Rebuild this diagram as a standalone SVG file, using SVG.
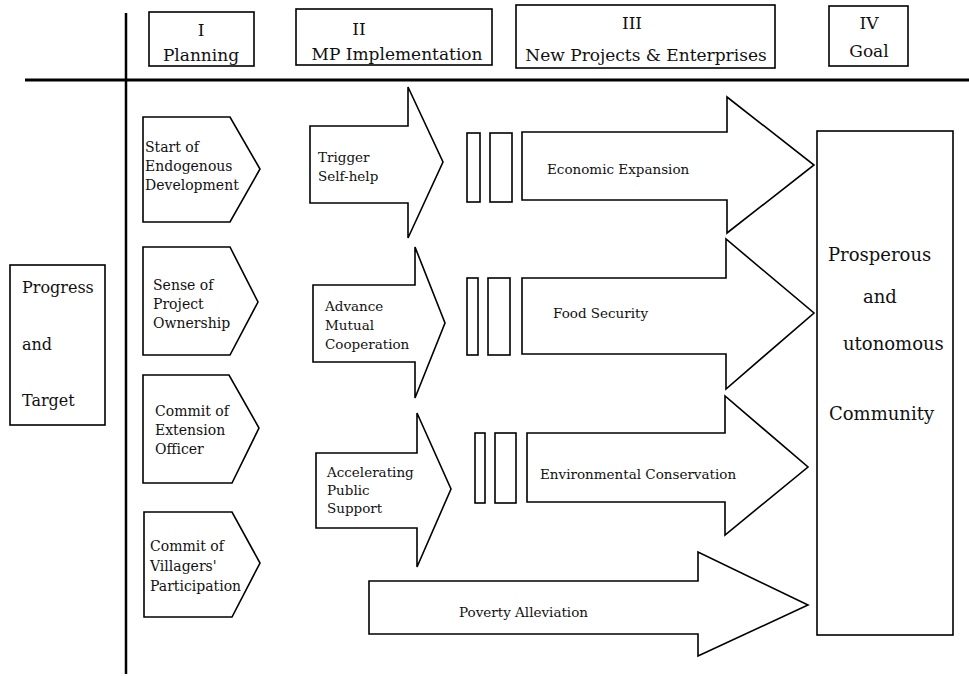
<svg xmlns="http://www.w3.org/2000/svg" width="969" height="676" viewBox="0 0 969 676">
  <style>
    .box { fill: #fff; stroke: #000; stroke-width: 1.6; }
    .axis { stroke: #000; fill: none; }
    text { font-family: "DejaVu Serif", "Liberation Serif", serif; fill: #111; }
    .hd { font-size: 17px; text-anchor: middle; }
    .side { font-size: 16px; }
    .goal { font-size: 18px; }
    .pl { font-size: 14px; }
    .mp { font-size: 13.5px; }
    .np { font-size: 13.5px; }
  </style>

  <!-- axes -->
  <g id="axes">
    <line class="axis" x1="25" y1="80" x2="969" y2="80" stroke-width="3"/>
    <line class="axis" x1="126" y1="13" x2="126" y2="674" stroke-width="2.5"/>
  </g>

  <!-- phase headers -->
  <g id="phase-1">
    <rect class="box" x="149" y="12" width="105" height="54"/>
    <text class="hd" x="201" y="36">I</text>
    <text class="hd" x="201" y="61">Planning</text>
  </g>
  <g id="phase-2">
    <rect class="box" x="296" y="9" width="196" height="56"/>
    <text class="hd" x="359" y="35">II</text>
    <text class="hd" x="397" y="60">MP Implementation</text>
  </g>
  <g id="phase-3">
    <rect class="box" x="516" y="5" width="259" height="63"/>
    <text class="hd" x="632" y="29">III</text>
    <text class="hd" x="646" y="61">New Projects &amp; Enterprises</text>
  </g>
  <g id="phase-4">
    <rect class="box" x="829" y="6" width="79" height="60"/>
    <text class="hd" x="869" y="29">IV</text>
    <text class="hd" x="869" y="57">Goal</text>
  </g>

  <!-- row label -->
  <g id="progress-target">
    <rect class="box" x="10" y="265" width="95" height="160"/>
    <text class="side" x="22" y="293">Progress</text>
    <text class="side" x="22" y="350">and</text>
    <text class="side" x="22" y="406">Target</text>
  </g>

  <!-- planning stages -->
  <g id="plan-endogenous">
    <polygon class="box" points="143,117 230,117 260,169 230,222 143,222"/>
    <text class="pl" x="145" y="152">Start of</text>
    <text class="pl" x="145" y="171">Endogenous</text>
    <text class="pl" x="145" y="190">Development</text>
  </g>
  <g id="plan-ownership">
    <polygon class="box" points="143,247 230,247 258,302 230,355 143,355"/>
    <text class="pl" x="153" y="290">Sense of</text>
    <text class="pl" x="153" y="309">Project</text>
    <text class="pl" x="153" y="328">Ownership</text>
  </g>
  <g id="plan-extension">
    <polygon class="box" points="143,375 229,375 259,428 232,483 143,483"/>
    <text class="pl" x="155" y="416">Commit of</text>
    <text class="pl" x="155" y="435">Extension</text>
    <text class="pl" x="155" y="454">Officer</text>
  </g>
  <g id="plan-villagers">
    <polygon class="box" points="144,512 232,512 260,563 232,617 144,617"/>
    <text class="pl" x="150" y="551">Commit of</text>
    <text class="pl" x="150" y="571">Villagers'</text>
    <text class="pl" x="150" y="591">Participation</text>
  </g>

  <!-- implementation arrows -->
  <g id="mp-selfhelp">
    <polygon class="box" points="310,126 408,126 408,87 443,162 408,238 408,203 310,203"/>
    <text class="mp" x="318" y="162">Trigger</text>
    <text class="mp" x="318" y="181">Self-help</text>
  </g>
  <g id="mp-cooperation">
    <polygon class="box" points="313,285 415,285 415,247 445,323 415,398 415,362 313,362"/>
    <text class="mp" x="325" y="311">Advance</text>
    <text class="mp" x="325" y="330">Mutual</text>
    <text class="mp" x="325" y="349">Cooperation</text>
  </g>
  <g id="mp-public">
    <polygon class="box" points="316,453 417,453 417,413 451,489 417,567 417,528 316,528"/>
    <text class="mp" x="327" y="477">Accelerating</text>
    <text class="mp" x="327" y="495">Public</text>
    <text class="mp" x="327" y="513">Support</text>
  </g>

  <!-- new projects & enterprises -->
  <g id="np-economic">
    <rect class="box" x="467" y="133" width="13" height="69"/>
    <rect class="box" x="490" y="133" width="22" height="69"/>
    <polygon class="box" points="522,132 727,132 727,97 814,165 727,233 727,200 522,200"/>
    <text class="np" x="547" y="174">Economic Expansion</text>
  </g>
  <g id="np-food">
    <rect class="box" x="467" y="278" width="11" height="77"/>
    <rect class="box" x="488" y="278" width="22" height="77"/>
    <polygon class="box" points="522,278 726,278 726,239 814,313 726,389 726,354 522,354"/>
    <text class="np" x="553" y="318">Food Security</text>
  </g>
  <g id="np-environment">
    <rect class="box" x="475" y="433" width="10" height="70"/>
    <rect class="box" x="495" y="433" width="21" height="70"/>
    <polygon class="box" points="527,433 725,433 725,396 808,467 725,535 725,502 527,502"/>
    <text class="np" x="540" y="479">Environmental Conservation</text>
  </g>
  <g id="np-poverty">
    <polygon class="box" points="369,581 698,581 698,552 808,605 698,656 698,634 369,634"/>
    <text class="np" x="459" y="617">Poverty Alleviation</text>
  </g>

  <!-- goal -->
  <g id="goal">
    <rect class="box" x="817" y="131" width="136" height="504"/>
    <text class="goal" x="828" y="261">Prosperous</text>
    <text class="goal" x="863" y="303">and</text>
    <text class="goal" x="843" y="350">utonomous</text>
    <text class="goal" x="829" y="420">Community</text>
  </g>

  <g id="connectors"/>
</svg>
